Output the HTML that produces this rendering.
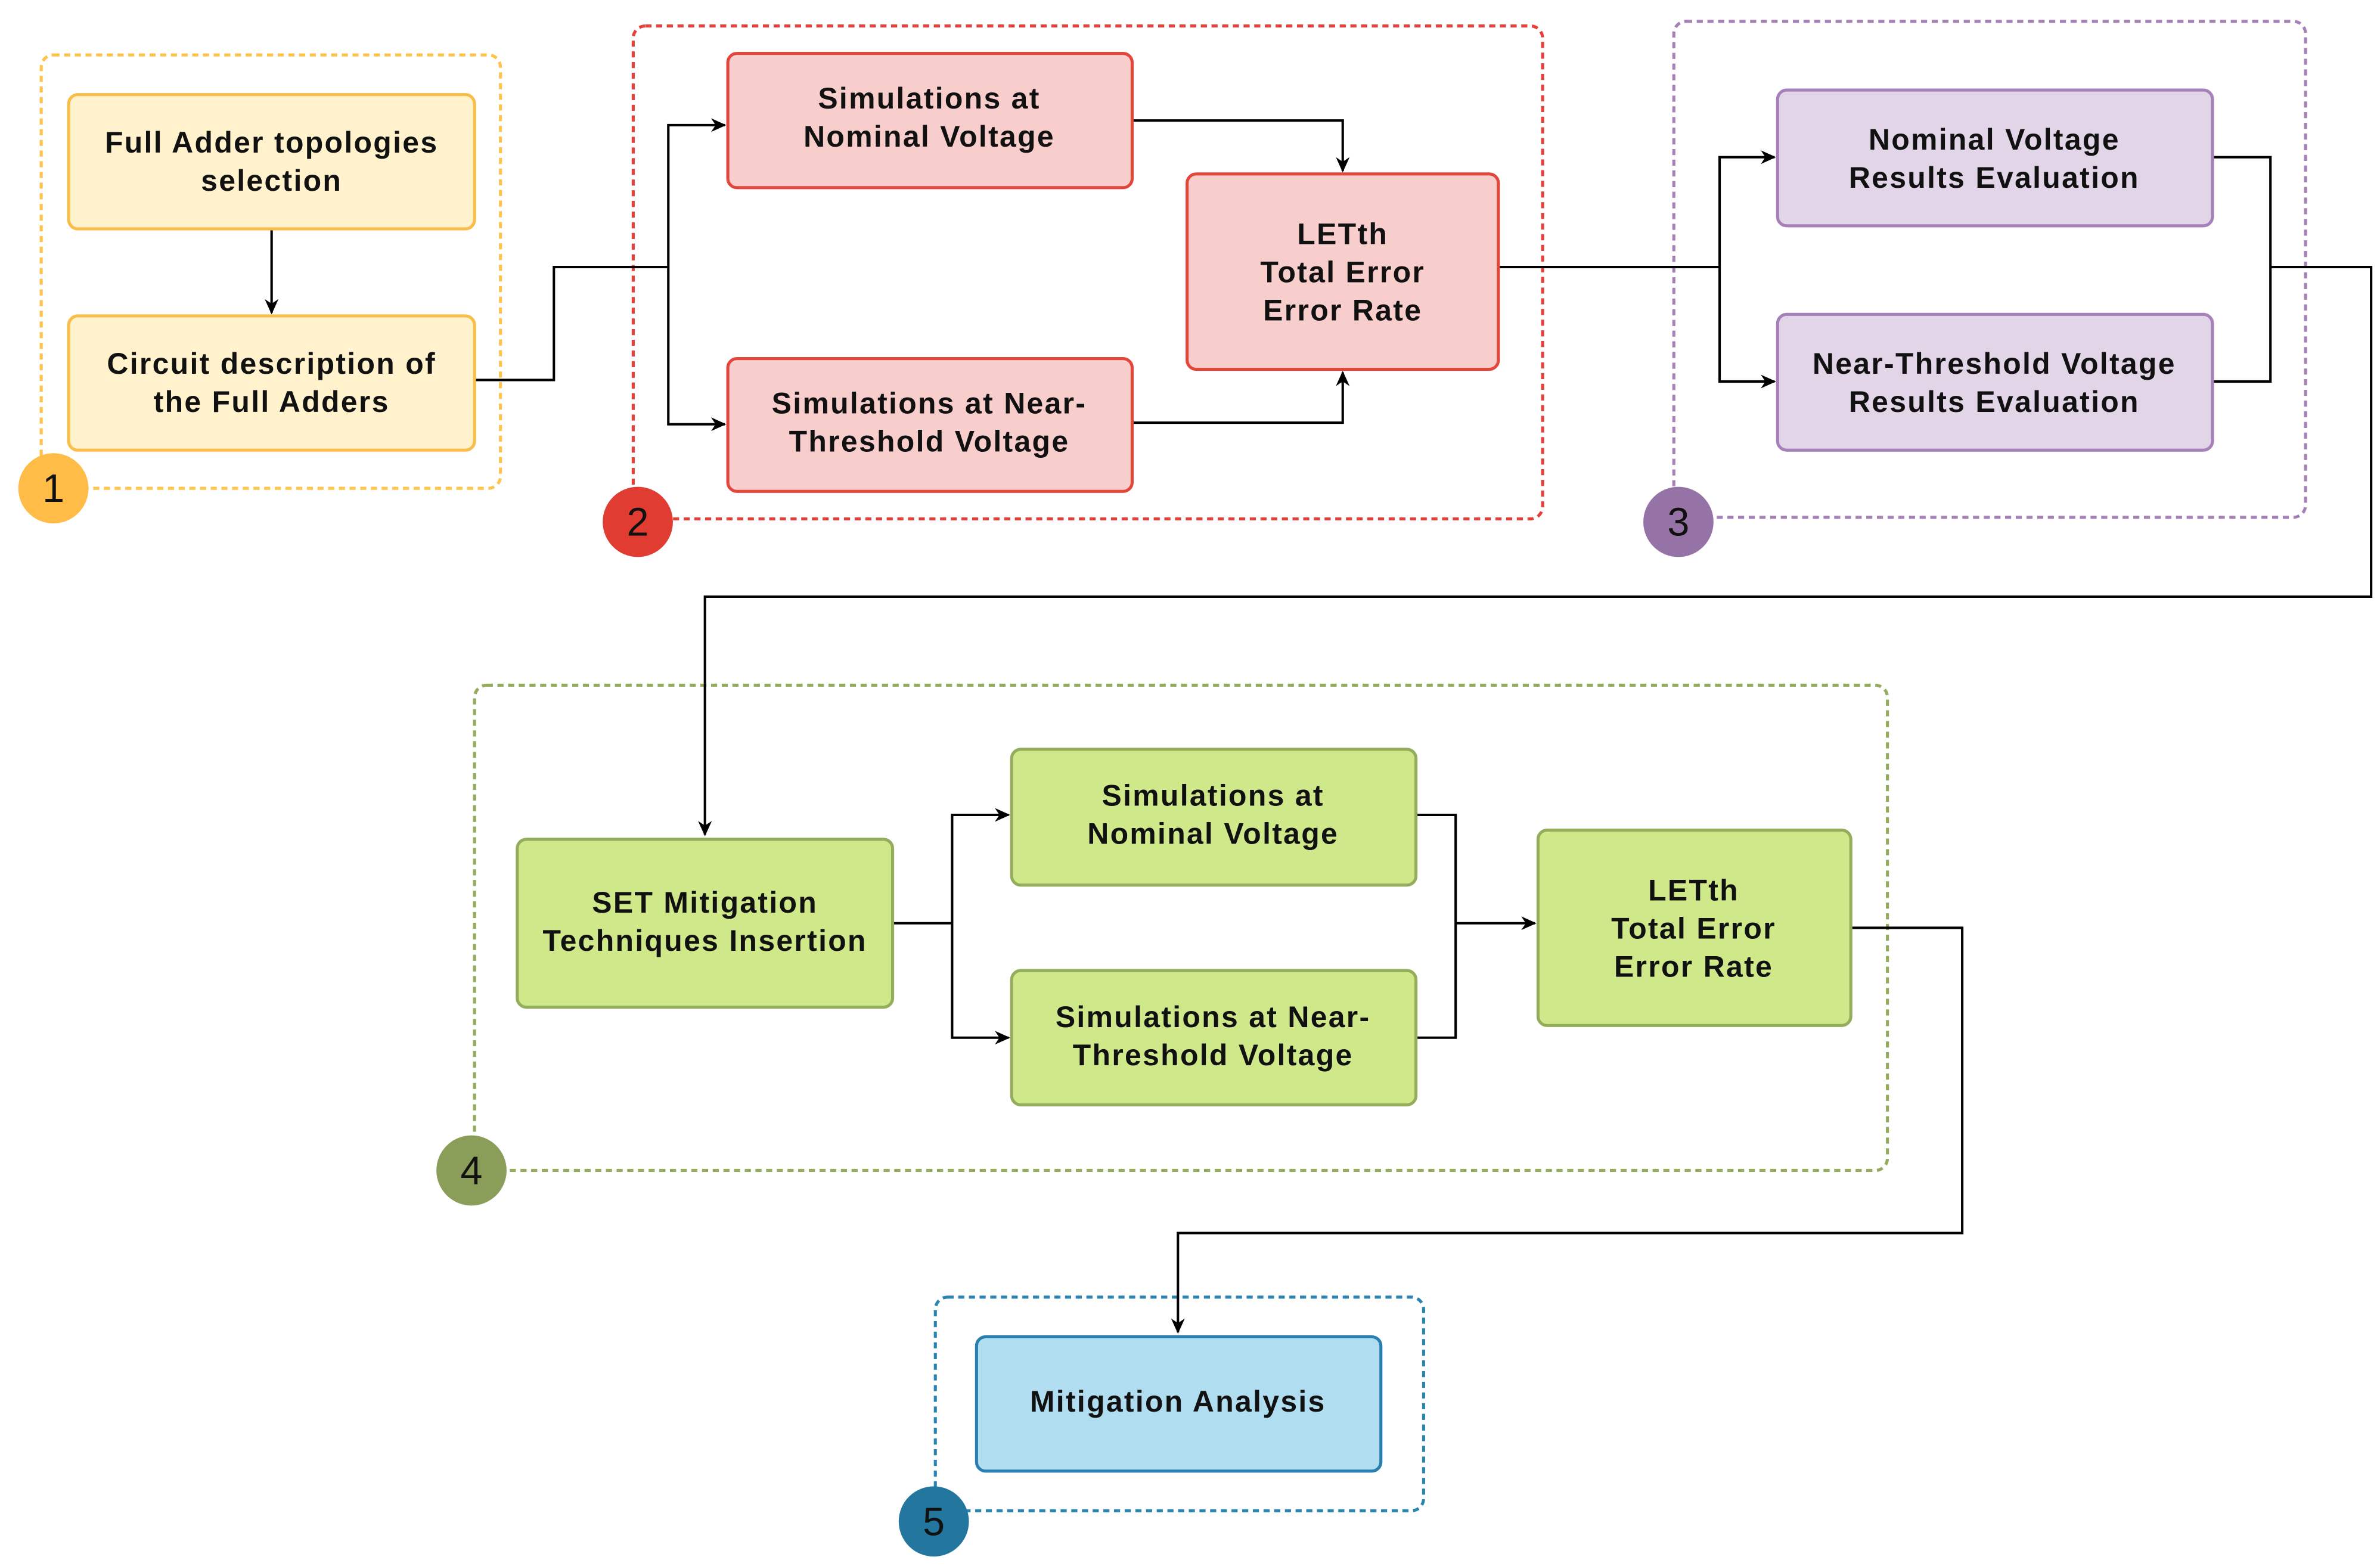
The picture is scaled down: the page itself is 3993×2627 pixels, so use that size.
<!DOCTYPE html>
<html><head><meta charset="utf-8"><style>
html,body{margin:0;padding:0;background:#fff;}
svg{display:block;}
text{font-family:"Liberation Sans",sans-serif;font-weight:bold;font-size:19.5px;letter-spacing:0.9px;fill:#111;text-anchor:middle;}
.n{font-weight:normal;font-size:26px;letter-spacing:0;}
</style></head><body>
<svg width="3993" height="2627" viewBox="0 0 1559.8 1026.2" xmlns="http://www.w3.org/2000/svg">
<defs>
<marker id="a" markerWidth="10" markerHeight="10" refX="9" refY="5" orient="auto" markerUnits="userSpaceOnUse">
<path d="M0,0.5 L10,5 L0,9.5 L3,5 Z" fill="#000"/></marker>
</defs>
<!-- group frames -->
<rect x="27" y="36" width="301" height="284" rx="8" fill="none" stroke="#ffc34d" stroke-width="2" stroke-dasharray="4 3"/>
<rect x="415" y="17" width="596" height="323" rx="8" fill="none" stroke="#e6403a" stroke-width="2" stroke-dasharray="4 3"/>
<rect x="1097" y="14" width="414" height="325" rx="8" fill="none" stroke="#a680b8" stroke-width="2" stroke-dasharray="4 3"/>
<rect x="311" y="449" width="926" height="318" rx="8" fill="none" stroke="#93ab5a" stroke-width="2" stroke-dasharray="4 3"/>
<rect x="613" y="850" width="320" height="140" rx="8" fill="none" stroke="#2a86b0" stroke-width="2" stroke-dasharray="4 3"/>

<!-- connectors -->
<g fill="none" stroke="#000" stroke-width="1.6">
<path d="M178,150 V205" marker-end="url(#a)"/>
<path d="M311,249 H363 V175 H438"/>
<path d="M438,175 V82 H475" marker-end="url(#a)"/>
<path d="M438,175 V278 H475" marker-end="url(#a)"/>
<path d="M742,79 H880 V112" marker-end="url(#a)"/>
<path d="M742,277 H880 V244" marker-end="url(#a)"/>
<path d="M982,175 H1127"/>
<path d="M1127,175 V103 H1163" marker-end="url(#a)"/>
<path d="M1127,175 V250 H1163" marker-end="url(#a)"/>
<path d="M1450,103 H1488 V250 H1450"/>
<path d="M1488,175 H1554 V391 H462 V547" marker-end="url(#a)"/>
<path d="M585,605 H624"/>
<path d="M624,605 V534 H661" marker-end="url(#a)"/>
<path d="M624,605 V680 H661" marker-end="url(#a)"/>
<path d="M928,534 H954 V680 H928"/>
<path d="M954,605 H1006" marker-end="url(#a)"/>
<path d="M1213,608 H1286 V808 H772 V873" marker-end="url(#a)"/>
</g>

<!-- boxes -->
<g stroke-width="2">
<rect x="45" y="62" width="266" height="88" rx="6" fill="#fff2cc" stroke="#f9bd4a"/>
<rect x="45" y="207" width="266" height="88" rx="6" fill="#fff2cc" stroke="#f9bd4a"/>
<rect x="477" y="35" width="265" height="88" rx="6" fill="#f8cecc" stroke="#e2473d"/>
<rect x="477" y="235" width="265" height="87" rx="6" fill="#f8cecc" stroke="#e2473d"/>
<rect x="778" y="114" width="204" height="128" rx="6" fill="#f8cecc" stroke="#e2473d"/>
<rect x="1165" y="59" width="285" height="89" rx="6" fill="#e1d5e7" stroke="#a680b8"/>
<rect x="1165" y="206" width="285" height="89" rx="6" fill="#e1d5e7" stroke="#a680b8"/>
<rect x="339" y="550" width="246" height="110" rx="6" fill="#cfe98a" stroke="#94ad5c"/>
<rect x="663" y="491" width="265" height="89" rx="6" fill="#cfe98a" stroke="#94ad5c"/>
<rect x="663" y="636" width="265" height="88" rx="6" fill="#cfe98a" stroke="#94ad5c"/>
<rect x="1008" y="544" width="205" height="128" rx="6" fill="#cfe98a" stroke="#94ad5c"/>
<rect x="640" y="876" width="265" height="88" rx="6" fill="#b1ddf0" stroke="#2a7fb0"/>
</g>

<!-- labels -->
<text x="178" y="100">Full Adder topologies</text>
<text x="178" y="125">selection</text>
<text x="178" y="245">Circuit description of</text>
<text x="178" y="270">the Full Adders</text>
<text x="609" y="71">Simulations at</text>
<text x="609" y="96">Nominal Voltage</text>
<text x="609" y="271">Simulations at Near-</text>
<text x="609" y="296">Threshold Voltage</text>
<text x="880" y="160">LETth</text>
<text x="880" y="185">Total Error</text>
<text x="880" y="210">Error Rate</text>
<text x="1307" y="98">Nominal Voltage</text>
<text x="1307" y="123">Results Evaluation</text>
<text x="1307" y="245">Near-Threshold Voltage</text>
<text x="1307" y="270">Results Evaluation</text>
<text x="462" y="598">SET Mitigation</text>
<text x="462" y="623">Techniques Insertion</text>
<text x="795" y="528">Simulations at</text>
<text x="795" y="553">Nominal Voltage</text>
<text x="795" y="673">Simulations at Near-</text>
<text x="795" y="698">Threshold Voltage</text>
<text x="1110" y="590">LETth</text>
<text x="1110" y="615">Total Error</text>
<text x="1110" y="640">Error Rate</text>
<text x="772" y="925">Mitigation Analysis</text>

<!-- step circles -->
<circle cx="35" cy="320" r="23" fill="#ffbd48"/>
<text class="n" x="35" y="329">1</text>
<circle cx="418" cy="342" r="23" fill="#e03c31"/>
<text class="n" x="418" y="351">2</text>
<circle cx="1100" cy="342" r="23" fill="#9673a6"/>
<text class="n" x="1100" y="351">3</text>
<circle cx="309" cy="767" r="23" fill="#8a9e5a"/>
<text class="n" x="309" y="776">4</text>
<circle cx="612" cy="997" r="23" fill="#23779e"/>
<text class="n" x="612" y="1006">5</text>
</svg>
</body></html>
